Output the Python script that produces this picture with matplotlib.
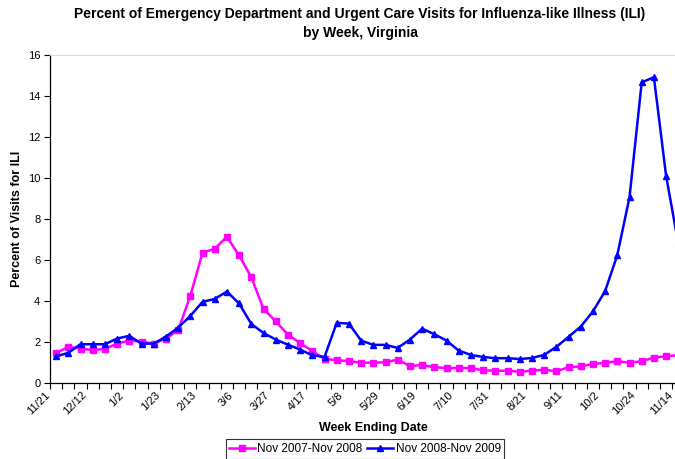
import numpy as np
import matplotlib
matplotlib.use("Agg")
import matplotlib.pyplot as plt
import matplotlib.transforms as mtransforms

plt.rcParams['font.family'] = ['Liberation Sans', 'DejaVu Sans']

tick_labels = ["11/21", "12/12", "1/2", "1/23", "2/13", "3/6", "3/27", "4/17", "5/8",
               "5/29", "6/19", "7/10", "7/31", "8/21", "9/11", "10/2", "10/24", "11/14"]

season_2007_08 = [1.47, 1.76, 1.68, 1.61, 1.66, 1.92, 2.07, 2.02, 1.92, 2.17,
                  2.57, 4.25, 6.35, 6.55, 7.13, 6.22, 5.16, 3.62, 3.01, 2.36,
                  1.95, 1.56, 1.17, 1.12, 1.06, 0.99, 0.99, 1.01, 1.14, 0.83,
                  0.88, 0.77, 0.73, 0.73, 0.73, 0.62, 0.60, 0.60, 0.55, 0.60,
                  0.65, 0.57, 0.77, 0.81, 0.93, 0.98, 1.06, 0.99, 1.06, 1.24,
                  1.30, 1.36]

season_2008_09 = [1.30, 1.47, 1.89, 1.89, 1.89, 2.17, 2.30, 1.92, 1.92, 2.26,
                  2.70, 3.27, 3.96, 4.10, 4.46, 3.88, 2.88, 2.44, 2.12, 1.87,
                  1.63, 1.35, 1.27, 2.93, 2.90, 2.07, 1.86, 1.86, 1.71, 2.12,
                  2.65, 2.38, 2.07, 1.58, 1.37, 1.27, 1.21, 1.21, 1.17, 1.22,
                  1.37, 1.76, 2.25, 2.75, 3.49, 4.48, 6.24, 9.06, 14.66, 14.92,
                  10.10, 6.80]

series_names = ["Nov 2007-Nov 2008", "Nov 2008-Nov 2009"]

W, H = 675, 459
fig = plt.figure(figsize=(W / 100, H / 100), dpi=100)
n = len(season_2007_08)
cat_w = 12.2
left, top, bottom = 50, 55, 383
ax = fig.add_axes([left / W, (H - bottom) / H, n * cat_w / W, (bottom - top) / H])

x = np.arange(n)
ax.plot(x, season_2007_08, color="#FF00FF", lw=1.8, marker="s", ms=4,
        label=series_names[0])
ax.plot(x, season_2008_09, color="#0000FF", lw=1.8, marker="^", ms=4.5,
        label=series_names[1])

ax.set_xlim(-0.5, n - 0.5)
ax.set_ylim(0, 16)
ax.set_yticks(np.arange(0, 17, 2))
ax.tick_params(axis='y', direction='out', length=4, width=0.8, labelsize=8, pad=3)

# tick marks at category boundaries
ax.set_xticks(np.arange(-0.5, n, 1))
ax.set_xticklabels([])
ax.tick_params(axis='x', which='major', direction='out', length=4, width=0.8)
# labels at every third category
label_pos = np.arange(0, n, 3)[:len(tick_labels)]
ax.set_xticks(label_pos, tick_labels, minor=True)
ax.tick_params(axis='x', which='minor', length=0, labelsize=8, pad=5)
shift = mtransforms.ScaledTranslation(-4 / 100, 0, fig.dpi_scale_trans)
for lab in ax.get_xticklabels(minor=True):
    lab.set_rotation(45)
    lab.set_ha('right')
    lab.set_va('top')
    lab.set_transform(lab.get_transform() + shift)

ax.spines['right'].set_visible(False)
ax.spines['top'].set_color('#D9D9D9')
ax.spines['left'].set_linewidth(0.9)
ax.spines['bottom'].set_linewidth(0.9)

ax.set_ylabel("Percent of Visits for ILI", fontsize=9, fontweight='bold')
ax.yaxis.set_label_coords(-(left - 23) / (n * cat_w), 0.5)

fig.text(360 / W, 1 - 14 / H,
         "Percent of Emergency Department and Urgent Care Visits for Influenza-like Illness (ILI)",
         ha='center', va='center', fontsize=10, fontweight='bold')
fig.text(360 / W, 1 - 33 / H, "by Week, Virginia",
         ha='center', va='center', fontsize=10, fontweight='bold')
fig.text(373 / W, 1 - 428 / H, "Week Ending Date",
         ha='center', va='center', fontsize=9, fontweight='bold')

leg = fig.legend(loc='center', bbox_to_anchor=(365 / W, 1 - 449 / H), ncol=2,
                 fontsize=8.5, frameon=True, fancybox=False, edgecolor='black',
                 handlelength=2.2, handletextpad=0.2, columnspacing=0.4,
                 borderpad=0.3, borderaxespad=0)
leg.get_frame().set_linewidth(0.8)

fig.savefig("out.png", dpi=100, facecolor='white')
